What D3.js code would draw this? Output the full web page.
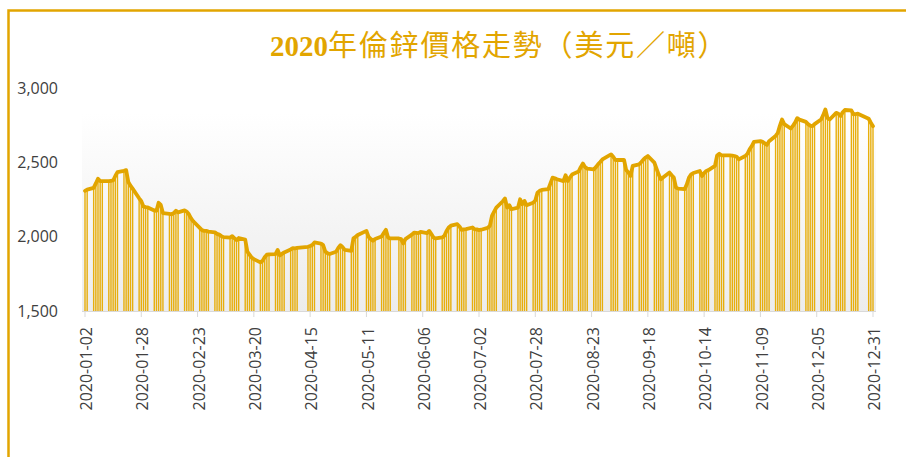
<!DOCTYPE html>
<html>
<head>
<meta charset="utf-8">
<script src="https://cdn.jsdelivr.net/npm/d3@7"></script>
<style>
  body { margin: 0; background: #fff; }
  svg { display: block; }
</style>
</head>
<body>
<div id="chart"></div>
<script>
// LME zinc, USD/t, one value per trading day (month by month)
const janVals = [2310, 2318, 2330, 2360, 2392, 2376, 2375, 2376, 2378, 2380, 2410, 2436, 2445, 2450, 2370, 2345, 2325, 2260, 2240, 2205, 2200, 2198];
const febVals = [2178, 2175, 2230, 2215, 2160, 2155, 2152, 2160, 2176, 2165, 2178, 2170, 2152, 2125, 2105, 2060, 2045, 2040, 2040, 2035];
const marVals = [2030, 2020, 2015, 2005, 1998, 1995, 2005, 1990, 1978, 1992, 1982, 1900, 1880, 1860, 1850, 1828, 1838, 1862, 1880, 1882, 1884, 1912];
const aprVals = [1875, 1885, 1895, 1915, 1924, 1922, 1925, 1933, 1938, 1945, 1962, 1955, 1944, 1900, 1890, 1884, 1900, 1925, 1944, 1930];
const mayVals = [1912, 1905, 1990, 2000, 2012, 2040, 2000, 1985, 1973, 1985, 2002, 2025, 2047, 1995, 1989, 1989, 1985, 1955, 1985];
const junVals = [2015, 2029, 2027, 2025, 2033, 2025, 2040, 2018, 1995, 1989, 1996, 2007, 2040, 2063, 2075, 2085, 2070, 2047, 2050, 2052, 2063, 2050];
const julVals = [2050, 2045, 2048, 2060, 2074, 2141, 2170, 2197, 2240, 2258, 2197, 2213, 2186, 2197, 2253, 2220, 2242, 2213, 2230, 2245, 2298, 2310, 2316];
const augVals = [2321, 2360, 2399, 2395, 2388, 2376, 2415, 2376, 2400, 2420, 2440, 2470, 2494, 2470, 2460, 2455, 2470, 2489, 2505, 2522];
const sepVals = [2556, 2540, 2518, 2518, 2518, 2450, 2433, 2410, 2478, 2489, 2505, 2522, 2535, 2545, 2500, 2460, 2420, 2388, 2400, 2433, 2415, 2399];
const octVals = [2332, 2325, 2321, 2354, 2400, 2421, 2430, 2444, 2410, 2430, 2444, 2450, 2478, 2549, 2560, 2550, 2549, 2549, 2548, 2545, 2540, 2522];
const novVals = [2545, 2560, 2590, 2612, 2640, 2645, 2640, 2630, 2620, 2645, 2680, 2700, 2750, 2791, 2760, 2730, 2748, 2770, 2800, 2790, 2775];
const decVals = [2760, 2750, 2746, 2760, 2791, 2820, 2859, 2800, 2791, 2836, 2830, 2814, 2840, 2855, 2852, 2825, 2828, 2830, 2796, 2769, 2746];

const holidays = ["2020-04-10", "2020-04-13", "2020-05-08", "2020-05-25", "2020-08-31", "2020-12-25", "2020-12-28"];
const tickLabels = ["2020-01-02", "2020-01-28", "2020-02-23", "2020-03-20", "2020-04-15", "2020-05-11", "2020-06-06",
  "2020-07-02", "2020-07-28", "2020-08-23", "2020-09-18", "2020-10-14", "2020-11-09", "2020-12-05", "2020-12-31"];
const yTicks = [1500, 2000, 2500, 3000];
const title = "2020";
const titleRest = "年倫鋅價格走勢（美元／噸）";

const width = 906, height = 457;
const gold = "#E2A500";

const parse = d3.utcParse("%Y-%m-%d");
const fmt = d3.utcFormat("%Y-%m-%d");
const start = parse("2020-01-02"), end = parse("2020-12-31");

// trading days: weekdays minus LME holidays
const days = d3.utcDay.range(start, d3.utcDay.offset(end, 1))
  .filter(d => d.getUTCDay() !== 0 && d.getUTCDay() !== 6 && !holidays.includes(fmt(d)));
const vals = [].concat(janVals, febVals, marVals, aprVals, mayVals, junVals,
  julVals, augVals, sepVals, octVals, novVals, decVals);
const data = days.map((d, i) => ({date: d, value: vals[i]})).filter(d => d.value != null);

const svg = d3.select("#chart").append("svg")
  .attr("width", width)
  .attr("height", height);

// frame
svg.append("rect")
  .attr("x", 8.5).attr("y", 10.5)
  .attr("width", 1000).attr("height", 600)
  .attr("fill", "none")
  .attr("stroke", gold)
  .attr("stroke-width", 2.5);

const x = d3.scaleUtc().domain([start, end]).range([85, 873]);
const y = d3.scaleLinear().domain([1500, 3000]).range([311, 88.5]);

// plot background gradient
const grad = svg.append("defs").append("linearGradient")
  .attr("id", "bg").attr("x1", 0).attr("y1", 0).attr("x2", 0).attr("y2", 1);
grad.append("stop").attr("offset", "0%").attr("stop-color", "#ffffff");
grad.append("stop").attr("offset", "100%").attr("stop-color", "#ececec");

svg.append("rect")
  .attr("x", 82).attr("y", 113)
  .attr("width", 794).attr("height", y(1500) - 113)
  .attr("fill", "url(#bg)");

// title
const t = svg.append("text")
  .attr("x", 270).attr("y", 56)
  .attr("fill", gold)
  .style("font-size", "29px");
t.append("tspan")
  .style("font-family", "'Liberation Serif', serif")
  .style("font-weight", "bold")
  .text(title);
t.append("tspan")
  .style("font-family", "'Noto Sans CJK TC', sans-serif")
  .style("letter-spacing", "1.8px")
  .text(titleRest);

// bars
svg.selectAll(".bar")
  .data(data)
  .enter().append("rect")
  .attr("class", "bar")
  .attr("x", d => x(d.date) - 0.7)
  .attr("width", 1.4)
  .attr("y", d => y(d.value))
  .attr("height", d => y(1500) - y(d.value))
  .attr("fill", "#E7AE0C");

// line
const line = d3.line()
  .x(d => x(d.date))
  .y(d => y(d.value));

svg.append("path")
  .attr("d", line(data))
  .attr("fill", "none")
  .attr("stroke", gold)
  .attr("stroke-width", 3.8)
  .attr("stroke-linejoin", "round")
  .attr("stroke-linecap", "round");

// x axis
svg.append("line")
  .attr("x1", 82).attr("x2", 876)
  .attr("y1", y(1500) + 0.5).attr("y2", y(1500) + 0.5)
  .attr("stroke", "#d9d9d9");

const xt = svg.selectAll(".xtick")
  .data(tickLabels)
  .enter().append("g")
  .attr("class", "xtick")
  .attr("transform", d => "translate(" + x(parse(d)) + ",0)");
xt.append("line")
  .attr("y1", y(1500)).attr("y2", y(1500) + 6)
  .attr("stroke", "#d9d9d9");
xt.append("text")
  .attr("transform", "translate(1.5,327) rotate(-90)")
  .attr("text-anchor", "end")
  .attr("dy", "0.35em")
  .attr("fill", "#404040")
  .style("font-family", "'Open Sans', sans-serif")
  .style("font-size", "16px")
  .text(d => d);

// y labels
svg.selectAll(".ylab")
  .data(yTicks)
  .enter().append("text")
  .attr("class", "ylab")
  .attr("x", 58)
  .attr("y", d => y(d))
  .attr("dy", "0.35em")
  .attr("text-anchor", "end")
  .attr("fill", "#404040")
  .style("font-family", "'Open Sans', sans-serif")
  .style("font-size", "16px")
  .text(d3.format(","));
</script>
</body>
</html>
